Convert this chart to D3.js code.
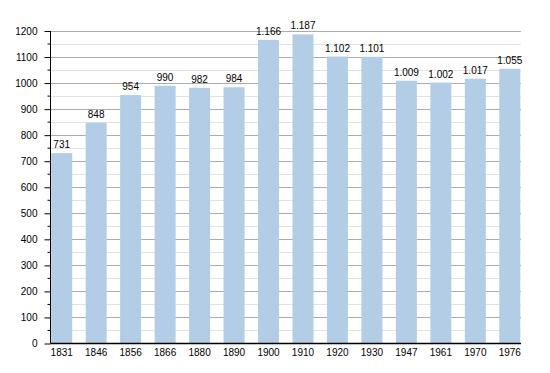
<!DOCTYPE html>
<html>
<head>
<meta charset="utf-8">
<script src="https://cdn.jsdelivr.net/npm/d3@7"></script>
<style>
  body { margin: 0; background: #fff; }
  svg { display: block; font-family: "Liberation Sans", Arial, sans-serif; }
</style>
</head>
<body>
<div id="chart"></div>
<script>
// Population by census year
const years = ['1831', '1846', '1856', '1866', '1880', '1890', '1900', '1910', '1920', '1930', '1947', '1961', '1970', '1976']
const population = [731, 848, 954, 990, 982, 984, 1166, 1187, 1102, 1101, 1009, 1002, 1017, 1055]
const majorTicks = [0, 100, 200, 300, 400, 500, 600, 700, 800, 900, 1000, 1100, 1200]
const minorTicks = [50, 150, 250, 350, 450, 550, 650, 750, 850, 950, 1050, 1150]

const width = 550
const height = 373
const plotLeft = 50.5
const plotRight = 521
const plotTop = 31
const plotBottom = 343.5

const svg = d3.select('#chart').append('svg').attr('width', width).attr('height', height)

const x = d3.scaleBand().domain(years).range([plotLeft, plotRight]).paddingInner(0.39).paddingOuter(0.02)
const y = d3.scaleLinear().domain([0, 1200]).range([plotBottom, plotTop])

// thousands with a dot, like 1.166
const fmt = d3.formatLocale({ decimal: ',', thousands: '.', grouping: [3], currency: ['', ''] }).format(',d')

// minor gridlines
svg.append('g')
  .selectAll('line')
  .data(minorTicks)
  .join('line')
  .attr('x1', plotLeft)
  .attr('x2', plotRight)
  .attr('y1', d => Math.round(y(d)) + 0.5)
  .attr('y2', d => Math.round(y(d)) + 0.5)
  .attr('stroke', '#e2e2e2')

// major gridlines
svg.append('g')
  .selectAll('line')
  .data(majorTicks.filter(d => d > 0))
  .join('line')
  .attr('x1', plotLeft)
  .attr('x2', plotRight)
  .attr('y1', d => Math.round(y(d)) + 0.5)
  .attr('y2', d => Math.round(y(d)) + 0.5)
  .attr('stroke', '#ababab')

// bars
svg.append('g')
  .selectAll('rect')
  .data(population)
  .join('rect')
  .attr('x', (d, i) => x(years[i]))
  .attr('y', d => y(d))
  .attr('width', x.bandwidth())
  .attr('height', d => plotBottom - y(d))
  .attr('fill', '#b3cde6')

// value labels
svg.append('g')
  .selectAll('text')
  .data(population)
  .join('text')
  .attr('x', (d, i) => x(years[i]) + x.bandwidth() / 2)
  .attr('y', d => y(d) - 5)
  .attr('text-anchor', 'middle')
  .attr('font-size', '10px')
  .attr('fill', '#000')
  .text(d => fmt(d))

// y axis with major + minor ticks
const yAxis = svg.append('g').attr('transform', `translate(${plotLeft},0)`)
yAxis.call(d3.axisLeft(y).tickValues(majorTicks).tickSize(6).tickPadding(7).tickFormat(d3.format('d')))
yAxis.append('g')
  .selectAll('line')
  .data(minorTicks)
  .join('line')
  .attr('x1', -3)
  .attr('x2', 0)
  .attr('y1', d => y(d))
  .attr('y2', d => y(d))
  .attr('stroke', '#000')
yAxis.select('.domain').attr('d', `M0,${plotTop}V${plotBottom}`)
yAxis.selectAll('text').attr('font-size', '10px').attr('font-family', '"Liberation Sans", Arial, sans-serif')

// x axis
const xAxis = svg.append('g').attr('transform', `translate(0,${plotBottom})`)
xAxis.call(d3.axisBottom(x).tickSize(0).tickPadding(5))
xAxis.select('.domain').attr('d', `M${plotLeft},0H${plotRight}`).attr('stroke-width', 1.3)
xAxis.selectAll('text').attr('font-size', '10px').attr('font-family', '"Liberation Sans", Arial, sans-serif')
</script>
</body>
</html>
